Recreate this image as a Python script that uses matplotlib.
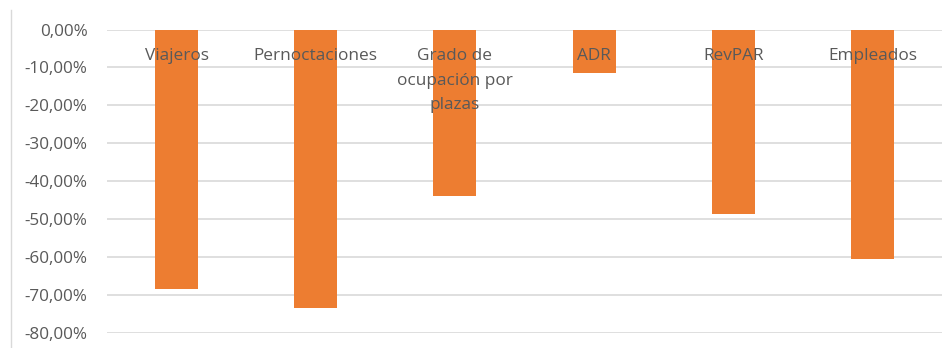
import matplotlib.pyplot as plt
from matplotlib.lines import Line2D
from matplotlib.ticker import FuncFormatter

# data
categories = ["Viajeros", "Pernoctaciones", "Grado de\nocupación por\nplazas",
              "ADR", "RevPAR", "Empleados"]
values = [-68.4, -73.3, -43.8, -11.4, -48.6, -60.6]
yticks = [0, -10, -20, -30, -40, -50, -60, -70, -80]

plt.rcParams['font.family'] = ['Open Sans', 'DejaVu Sans']
text_color = '#595959'
bar_color = '#ED7D31'

fig = plt.figure(figsize=(9.52, 3.48), dpi=100)
ax = fig.add_axes([107 / 952, 1 - 333 / 348, 835 / 952, (333 - 29.5) / 348])

x = list(range(len(categories)))
ax.bar(x, values, width=0.31, color=bar_color, zorder=2)

ax.set_xlim(-0.5, len(categories) - 0.5)
ax.set_ylim(-80, 0)
ax.set_yticks(yticks)
ax.yaxis.set_major_formatter(FuncFormatter(lambda v, p: f"{v:.2f}".replace('.', ',') + '%'))
ax.tick_params(axis='y', length=0, pad=14, labelsize=12.3, labelcolor=text_color)
ax.set_xticks([])
ax.grid(axis='y', color='#d9d9d9', linewidth=1.2, zorder=0)
ax.set_axisbelow(True)
for s in ax.spines.values():
    s.set_visible(False)

# category labels sit on top of the bars, near the zero line
for i, name in enumerate(categories):
    ax.text(i, -5.0, name, ha='center', va='top', fontsize=12.4,
            color=text_color, linespacing=1.68, zorder=3)

# thin border line on the left of the screenshot
fig.add_artist(Line2D([11 / 952, 11 / 952], [0, 1 - 10 / 348],
                      transform=fig.transFigure, color='#d9d9d9', linewidth=1))

fig.savefig('out.png', dpi=100)
